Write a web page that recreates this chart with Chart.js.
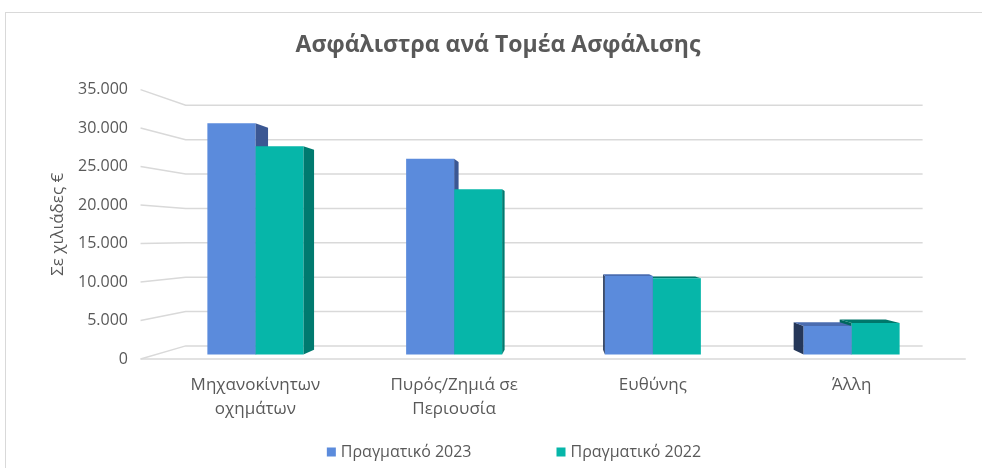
<!DOCTYPE html>
<html>
<head>
<meta charset="utf-8">
<script src="https://cdn.jsdelivr.net/npm/chart.js@4.4.0/dist/chart.umd.min.js"></script>
<style>
    html, body { margin: 0; padding: 0; background: #fff; }
    #wrap { position: relative; width: 982px; height: 468px; overflow: hidden; }
    #frame { position: absolute; left: 5px; top: 12px; width: 1000px; height: 500px; border: 1px solid #d9d9d9; box-sizing: border-box; }
    #chart { position: absolute; left: 0; top: 0; }
</style>
</head>
<body>
<div id="wrap">
    <div id="frame"></div>
    <canvas id="chart" width="982" height="468"></canvas>
</div>
<script>
// Δεδομένα (σε χιλιάδες €)
const categories = [['Μηχανοκίνητων', 'οχημάτων'], ['Πυρός/Ζημιά σε', 'Περιουσία'], 'Ευθύνης', 'Άλλη'];
const seriesNames = ['Πραγματικό 2023', 'Πραγματικό 2022'];
const actual2023 = [31200, 26400, 10600, 3850];
const actual2022 = [28100, 22300, 10300, 4250];
const yMax = 35000;
const yStep = 5000;

const TEXT = '#595959';
const GRID = '#d9d9d9';
const FONT = '"Open Sans", "Noto Sans", sans-serif';

// χρώματα όψεων για το ψευδο-3D
const faceColors = [
    { front: '#5b8bdc', side: '#3b5793', sideFar: '#253759', top: '#4a6cb0' },
    { front: '#06b6a9', side: '#007a6f', sideFar: '#00675e', top: '#00776b' }
];

// προοπτική: σημείο φυγής ως κλάσμα της περιοχής του γραφήματος
const vpFrac = { x: 0.511, y: 0.545 };
const frontScale = 1.038;   // επίπεδο ετικετών / δάπεδο μπροστά
const backScale = 0.927;    // πίσω τοίχος
const barDepth = 0.9587;    // πίσω όψη στήλης

function vanishing(chart) {
    const a = chart.chartArea;
    return { x: a.left + (a.right - a.left) * vpFrac.x, y: a.top + (a.bottom - a.top) * vpFrac.y };
}

function toward(v, x, y, k) {
    return [v.x + (x - v.x) * k, v.y + (y - v.y) * k];
}

function fillQuad(ctx, pts, color) {
    ctx.beginPath();
    ctx.moveTo(pts[0][0], pts[0][1]);
    for (let i = 1; i < pts.length; i++) ctx.lineTo(pts[i][0], pts[i][1]);
    ctx.closePath();
    ctx.fillStyle = color;
    ctx.fill();
}

// τοίχοι και γραμμές πλέγματος
const wallsPlugin = {
    id: 'walls',
    beforeDatasetsDraw(chart) {
        const { ctx, chartArea: a, scales: { y } } = chart;
        const v = vanishing(chart);
        const leftF = v.x + (a.left - v.x) * frontScale;
        const rightF = v.x + (a.right - v.x) * frontScale;
        const k = backScale / frontScale;
        ctx.save();
        ctx.strokeStyle = GRID;
        ctx.lineWidth = 1.5;
        y.ticks.forEach(t => {
            const fy = y.getPixelForValue(t.value);
            const [bx, by] = toward(v, leftF, fy, k);
            const [bxr] = toward(v, rightF, fy, k);
            ctx.beginPath();
            ctx.moveTo(leftF, fy);
            ctx.lineTo(bx, by);
            ctx.lineTo(bxr, by);
            ctx.stroke();
        });
        const fy0 = y.getPixelForValue(0);
        ctx.beginPath();
        ctx.moveTo(leftF, fy0);
        ctx.lineTo(rightF, fy0);
        ctx.stroke();
        ctx.restore();
    }
};

// πλευρικές και πάνω όψεις των στηλών
const facesPlugin = {
    id: 'faces',
    beforeDatasetsDraw(chart) {
        const ctx = chart.ctx;
        const v = vanishing(chart);
        const items = [];
        chart.data.datasets.forEach((ds, di) => {
            chart.getDatasetMeta(di).data.forEach(bar => items.push({ bar, di }));
        });
        items.sort((p, q) => Math.abs(q.bar.x - v.x) - Math.abs(p.bar.x - v.x));
        ctx.save();
        items.forEach(({ bar, di }) => {
            const { x, y, base, width } = bar.getProps(['x', 'y', 'base', 'width'], true);
            const l = x - width / 2, r = x + width / 2;
            const c = faceColors[di];
            if (r < v.x) {
                fillQuad(ctx, [[r, y], [r, base], toward(v, r, base, barDepth), toward(v, r, y, barDepth)], c.side);
            }
            if (l > v.x) {
                fillQuad(ctx, [[l, y], [l, base], toward(v, l, base, barDepth), toward(v, l, y, barDepth)], c.sideFar);
            }
            if (y > v.y) {
                fillQuad(ctx, [[l, y], [r, y], toward(v, r, y, barDepth), toward(v, l, y, barDepth)], c.top);
            }
        });
        ctx.restore();
    }
};

// υπόμνημα σε μία γραμμή
const legendRow = {
    id: 'legendRow',
    afterDraw(chart) {
        const ctx = chart.ctx;
        ctx.save();
        ctx.font = '16px ' + FONT;
        ctx.textBaseline = 'middle';
        ctx.textAlign = 'left';
        const box = 9, gap = 5, between = 85, cy = 452, cx = 514;
        const items = chart.data.datasets.map(ds => ({
            text: ds.label, color: ds.backgroundColor, w: ctx.measureText(ds.label).width
        }));
        const total = items.reduce((s, it) => s + box + gap + it.w, 0) + between * (items.length - 1);
        let x = cx - total / 2;
        items.forEach(it => {
            ctx.fillStyle = it.color;
            ctx.fillRect(x, cy - box / 2, box, box);
            x += box + gap;
            ctx.fillStyle = TEXT;
            ctx.fillText(it.text, x, cy);
            x += it.w + between;
        });
        ctx.restore();
    }
};

const fmt = (n) => String(n).replace(/\B(?=(\d{3})+(?!\d))/g, '.');

// κλίμακα των στηλών: ίδιο εύρος τιμών, μεταφερμένο στο επίπεδο των στηλών
const barMin = (1 - vpFrac.y) * (1 - frontScale) * yMax;
const barMax = barMin + yMax * frontScale;

new Chart(document.getElementById('chart'), {
    type: 'bar',
    data: {
        labels: categories,
        datasets: [
            { label: seriesNames[0], data: actual2023, backgroundColor: faceColors[0].front, yAxisID: 'yBar' },
            { label: seriesNames[1], data: actual2022, backgroundColor: faceColors[1].front, yAxisID: 'yBar' }
        ]
    },
    options: {
        responsive: false,
        animation: false,
        events: [],
        datasets: {
            bar: { categoryPercentage: 0.483, barPercentage: 1, borderWidth: 0 }
        },
        layout: { padding: { left: 45, right: 31, top: 0, bottom: 50 } },
        plugins: {
            legend: { display: false },
            tooltip: { enabled: false },
            title: {
                display: true,
                text: 'Ασφάλιστρα ανά Τομέα Ασφάλισης',
                color: TEXT,
                font: { family: FONT, size: 23, weight: 'bold' },
                padding: { top: 32, bottom: 30 }
            }
        },
        scales: {
            x: {
                grid: { display: false },
                border: { display: false },
                ticks: { color: TEXT, font: { family: FONT, size: 17, lineHeight: 1.42 }, padding: 6, maxRotation: 0 },
                afterFit: (scale) => { scale.height = 59; }
            },
            y: {
                min: 0,
                max: yMax,
                grid: { display: false },
                border: { display: false },
                ticks: { stepSize: yStep, color: TEXT, font: { family: FONT, size: 16 }, padding: 20, callback: (v) => fmt(v) },
                title: { display: true, text: 'Σε χιλιάδες €', color: TEXT, font: { family: FONT, size: 17 }, padding: { top: 3, bottom: 0 } },
                afterFit: (scale) => { scale.width = 111; }
            },
            yBar: {
                display: false,
                min: barMin,
                max: barMax
            }
        }
    },
    plugins: [wallsPlugin, facesPlugin, legendRow]
});
</script>
</body>
</html>
